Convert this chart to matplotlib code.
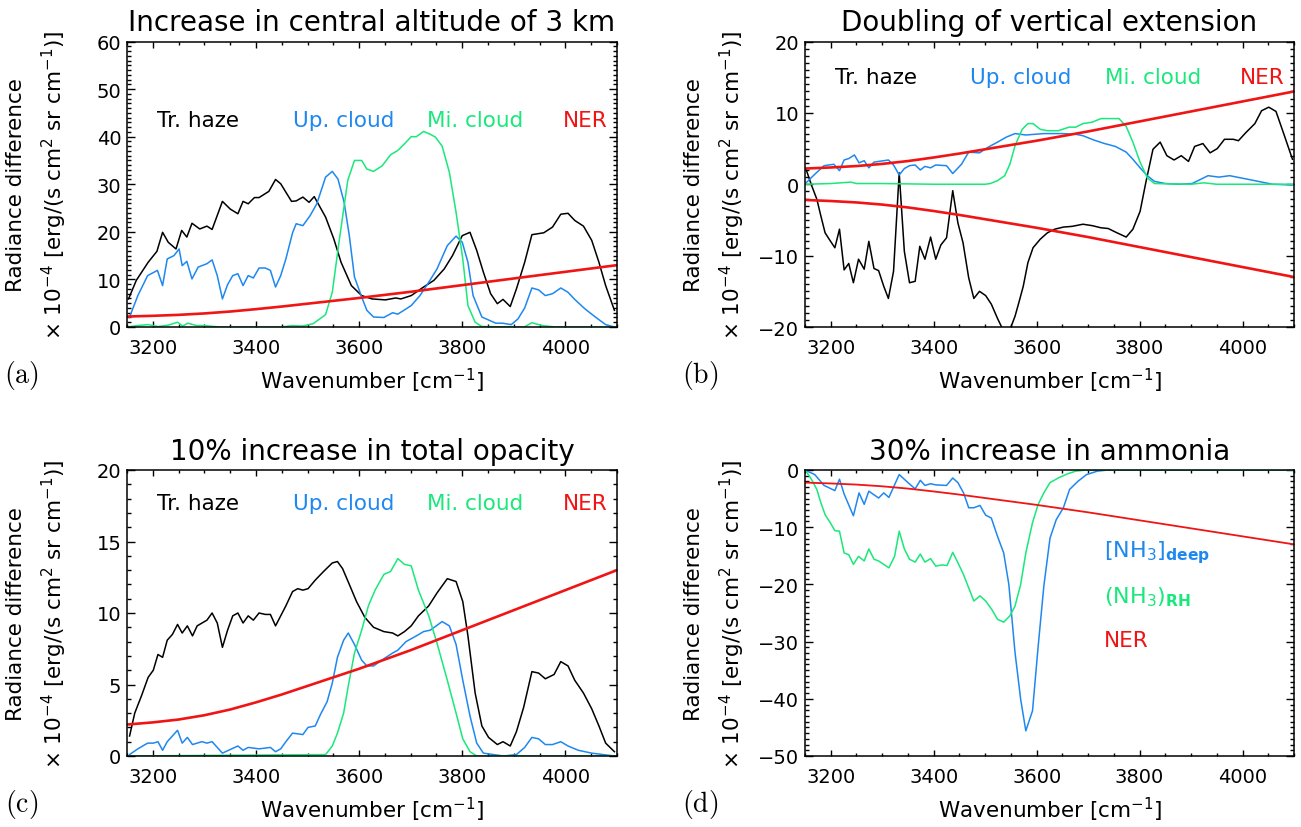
import matplotlib
matplotlib.use("Agg")
import matplotlib.pyplot as plt
from matplotlib.ticker import MultipleLocator

plt.rcParams["font.family"] = ["DejaVu Sans"]

# colours of the four series
c_haze = "black"
c_up = "#1e88f0"
c_mi = "#19e87a"
c_ner = "#f01414"

# noise equivalent radiance (shared by all panels)
wn_ner = [3150, 3200, 3250, 3300, 3350, 3400, 3450, 3500, 3550, 3600,
          3650, 3700, 3750, 3800, 3850, 3900, 3950, 4000, 4050, 4100]
ner = [2.2, 2.35, 2.55, 2.85, 3.25, 3.75, 4.3, 4.9, 5.5, 6.1,
       6.75, 7.4, 8.1, 8.8, 9.5, 10.2, 10.9, 11.6, 12.3, 13.0]

# (a) increase in central altitude of 3 km
wn_a_haze = [3153, 3168, 3191, 3208, 3219, 3230, 3245, 3256, 3266, 3276, 3291, 3305, 3315, 3335, 3350, 3365,
             3375, 3385, 3397, 3406, 3425, 3438, 3448, 3469, 3478, 3491, 3503, 3513, 3535, 3551, 3565, 3585,
             3605, 3625, 3651, 3671, 3681, 3701, 3725, 3745, 3765, 3781, 3800, 3815, 3828, 3841, 3855, 3868,
             3879, 3893, 3905, 3921, 3935, 3958, 3975, 3991, 4005, 4018, 4035, 4051, 4065, 4078, 4095]
a_haze = [5.9, 9.8, 13.6, 15.9, 19.9, 17.8, 16.4, 20.3, 18.9, 21.8, 20.6, 21.2, 20.5, 26.4, 24.8, 23.8,
          26.4, 25.9, 27.2, 27.2, 28.5, 31.0, 30.1, 26.4, 26.5, 27.3, 26.2, 27.4, 23.1, 18.5, 13.6, 8.7,
          6.6, 5.9, 5.7, 6.1, 5.9, 6.6, 8.4, 9.8, 12.2, 15.0, 19.2, 19.9, 16.1, 11.5, 7.0, 4.9,
          5.8, 4.3, 8.0, 13.6, 19.4, 19.8, 21.0, 23.7, 23.9, 22.4, 21.2, 18.2, 13.6, 8.7, 3.5]
wn_a_up = [3155, 3171, 3190, 3209, 3219, 3228, 3241, 3251, 3257, 3266, 3276, 3288, 3305, 3315, 3325, 3335,
           3345, 3355, 3365, 3375, 3385, 3395, 3406, 3418, 3428, 3438, 3448, 3458, 3471, 3478, 3491, 3505,
           3518, 3535, 3548, 3559, 3571, 3581, 3591, 3605, 3615, 3628, 3648, 3665, 3675, 3691, 3701, 3718,
           3735, 3751, 3771, 3788, 3800, 3811, 3821, 3838, 3865, 3878, 3895, 3908, 3921, 3935, 3948, 3961,
           3975, 3991, 4005, 4018, 4038, 4058, 4078, 4095]
a_up = [2.1, 6.6, 10.8, 11.9, 8.7, 14.3, 15.0, 16.4, 12.9, 13.8, 10.1, 12.6, 13.3, 14.1, 10.8, 5.9,
        8.9, 10.8, 11.2, 8.7, 10.8, 10.3, 12.4, 12.4, 11.9, 8.4, 10.8, 14.3, 19.8, 21.7, 21.3, 23.4,
        25.9, 31.5, 32.7, 31.1, 26.2, 19.2, 10.5, 6.3, 3.5, 2.1, 2.0, 3.0, 2.7, 3.8, 4.5, 6.6,
        9.4, 12.2, 17.1, 19.1, 17.8, 13.6, 6.6, 2.1, 0.8, 0.8, 0.5, 1.7, 4.0, 8.2, 7.8, 6.6,
        7.0, 8.2, 7.3, 5.8, 3.8, 2.1, 0.5, 0.0]
wn_a_mi = [3150, 3170, 3191, 3210, 3230, 3248, 3258, 3268, 3285, 3300, 3330, 3400, 3450, 3470, 3490, 3511,
           3535, 3548, 3561, 3578, 3591, 3605, 3615, 3628, 3645, 3661, 3675, 3688, 3701, 3711, 3725, 3738,
           3748, 3761, 3775, 3788, 3801, 3811, 3825, 3838, 3900, 3920, 3935, 3955, 3980, 4100]
a_mi = [0, 0.3, 0.5, 0.1, 0.4, 1.0, 0.2, 0.8, 0.3, 0.3, 0, 0, 0, 0.3, 0.2, 0.7,
        2.6, 7.3, 17.8, 30.8, 35.0, 35.0, 33.2, 32.7, 33.9, 36.2, 37.1, 38.5, 40.0, 40.0, 41.1, 40.5,
        39.9, 38.0, 32.5, 24.1, 14.3, 4.5, 1.0, 0.1, 0, 0, 0.9, 0.3, 0, 0]

# (b) doubling of vertical extension
wn_b_haze = [3152, 3163, 3173, 3180, 3189, 3197, 3208, 3217, 3226, 3235, 3244, 3254, 3265, 3274, 3284, 3293,
             3303, 3312, 3322, 3333, 3343, 3353, 3364, 3373, 3383, 3394, 3404, 3414, 3425, 3437, 3447, 3457,
             3468, 3478, 3489, 3501, 3512, 3524, 3536, 3548, 3558, 3565, 3574, 3583, 3593, 3607, 3621, 3635,
             3652, 3669, 3690, 3708, 3725, 3739, 3756, 3774, 3787, 3801, 3812, 3826, 3840, 3853, 3867, 3881,
             3895, 3907, 3923, 3937, 3951, 3965, 3982, 3992, 4006, 4024, 4037, 4051, 4065, 4079, 4097]
b_haze = [2.1, -0.2, -2.1, -4.2, -6.8, -7.7, -8.9, -6.3, -12.0, -11.1, -13.8, -10.5, -11.9, -8.0, -11.8, -12.1,
          -14.3, -16.0, -12.2, 1.6, -9.4, -13.8, -13.6, -8.7, -10.5, -7.4, -10.5, -8.5, -7.5, -0.9, -5.4, -8.2,
          -13.1, -16.0, -15.0, -15.6, -16.8, -18.8, -20.6, -20.4, -18.5, -16.7, -14.3, -11.0, -8.9, -7.7, -6.8, -6.3,
          -6.0, -5.9, -5.6, -5.8, -6.1, -6.2, -6.8, -7.4, -6.3, -3.8, 0.2, 4.9, 5.9, 4.0, 3.4, 4.0,
          3.2, 5.3, 5.7, 4.4, 5.0, 6.3, 6.3, 6.1, 7.2, 8.5, 10.3, 10.8, 10.2, 7.3, 3.5]
wn_b_up = [3152, 3169, 3187, 3206, 3217, 3226, 3235, 3246, 3255, 3265, 3274, 3284, 3303, 3312, 3322, 3333,
           3343, 3353, 3364, 3374, 3383, 3394, 3404, 3425, 3437, 3454, 3468, 3489, 3506, 3524, 3541, 3558,
           3579, 3614, 3649, 3676, 3690, 3711, 3732, 3753, 3774, 3787, 3801, 3815, 3829, 3850, 3878, 3902,
           3919, 3933, 3954, 3975, 3996, 4024, 4058, 4097]
b_up = [0.2, 1.4, 2.6, 2.8, 1.9, 3.4, 3.6, 4.1, 3.0, 3.3, 2.3, 3.1, 3.3, 3.4, 2.7, 1.3,
        2.2, 2.6, 2.7, 2.0, 2.5, 2.3, 2.7, 2.6, 1.5, 2.8, 4.5, 4.4, 5.2, 5.9, 6.6, 7.1,
        6.9, 7.1, 7.1, 7.0, 6.8, 6.2, 5.7, 5.3, 4.5, 3.5, 2.3, 1.2, 0.4, 0.1, 0.0, 0.1,
        0.7, 1.2, 1.0, 1.2, 0.9, 0.5, 0.0, -0.1]
wn_b_mi = [3150, 3200, 3239, 3250, 3300, 3400, 3500, 3510, 3524, 3538, 3548, 3558, 3572, 3583, 3593, 3607,
           3621, 3642, 3663, 3676, 3690, 3708, 3725, 3746, 3760, 3774, 3787, 3801, 3815, 3829, 3900, 3925,
           3950, 4100]
b_mi = [0, 0.1, 0.3, 0.1, 0.1, 0, 0, 0.1, 0.5, 1.2, 2.8, 5.4, 7.7, 8.5, 8.5, 7.7,
        7.5, 7.5, 8.0, 8.0, 8.5, 8.7, 9.2, 9.2, 9.2, 8.1, 5.9, 3.1, 0.9, 0.1, 0, 0.2,
        0, 0]

# (c) 10% increase in total opacity
wn_c_haze = [3155, 3165, 3178, 3191, 3201, 3210, 3219, 3228, 3238, 3248, 3257, 3267, 3277, 3286, 3305, 3315,
             3325, 3335, 3345, 3355, 3365, 3375, 3385, 3395, 3406, 3418, 3428, 3438, 3458, 3471, 3481, 3491,
             3501, 3515, 3531, 3548, 3558, 3568, 3581, 3595, 3611, 3628, 3648, 3665, 3675, 3688, 3701, 3715,
             3735, 3751, 3771, 3788, 3801, 3811, 3825, 3838, 3851, 3868, 3879, 3893, 3905, 3919, 3935, 3948,
             3961, 3978, 3991, 4005, 4018, 4035, 4051, 4065, 4078, 4095]
c_haze_v = [1.4, 3.0, 4.2, 5.5, 6.0, 7.1, 6.9, 8.1, 8.5, 9.2, 8.6, 9.1, 8.4, 9.1, 9.5, 10.0,
            9.3, 7.6, 8.8, 9.8, 10.0, 9.3, 9.8, 9.5, 10.0, 9.9, 9.9, 9.1, 10.5, 11.5, 11.7, 11.6,
            11.7, 12.3, 12.9, 13.5, 13.6, 13.1, 12.0, 10.8, 9.7, 9.0, 8.7, 8.6, 8.4, 8.7, 9.1, 9.8,
            10.5, 11.4, 12.4, 12.2, 10.8, 8.4, 4.4, 2.1, 1.3, 0.8, 1.0, 0.7, 1.7, 3.4, 5.9, 5.8,
            5.4, 5.7, 6.6, 6.3, 5.3, 4.4, 3.3, 2.1, 0.9, 0.3]
wn_c_up = [3155, 3171, 3190, 3201, 3210, 3219, 3228, 3238, 3248, 3257, 3267, 3277, 3295, 3305, 3315, 3335,
           3365, 3375, 3385, 3406, 3428, 3438, 3448, 3458, 3471, 3491, 3501, 3515, 3525, 3538, 3548, 3558,
           3570, 3579, 3591, 3605, 3615, 3628, 3648, 3665, 3675, 3691, 3711, 3725, 3738, 3761, 3775, 3788,
           3801, 3815, 3828, 3841, 3880, 3905, 3921, 3935, 3948, 3961, 3975, 3991, 4005, 4025, 4051, 4095]
c_up_v = [0.1, 0.5, 0.9, 0.9, 1.0, 0.4, 1.0, 1.4, 1.8, 0.9, 1.3, 0.8, 1.0, 0.9, 1.0, 0.2,
          0.7, 0.4, 0.6, 0.5, 0.6, 0.3, 0.5, 1.0, 1.6, 1.5, 2.0, 2.1, 2.9, 3.8, 5.1, 6.9,
          8.1, 8.6, 7.8, 6.7, 6.3, 6.3, 6.8, 7.2, 7.4, 8.0, 8.4, 8.7, 8.8, 9.4, 9.1, 7.8,
          5.3, 2.8, 0.9, 0.2, 0.0, 0.1, 0.6, 1.3, 1.2, 0.8, 0.8, 1.0, 0.7, 0.4, 0.2, 0.0]
wn_c_mi = [3150, 3535, 3548, 3558, 3570, 3579, 3591, 3605, 3618, 3631, 3648, 3661, 3675, 3688, 3701, 3715,
           3735, 3751, 3771, 3788, 3801, 3815, 3828, 4100]
c_mi_v = [0, 0.1, 0.7, 1.6, 3.0, 4.9, 7.2, 8.8, 10.5, 11.6, 12.7, 12.9, 13.8, 13.4, 13.3, 11.6,
          9.8, 7.9, 5.3, 3.0, 1.2, 0.3, 0, 0]

# (d) 30% increase in ammonia
wn_d_deep = [3152, 3169, 3187, 3208, 3217, 3226, 3244, 3255, 3265, 3274, 3293, 3303, 3313, 3333, 3350, 3364,
             3374, 3383, 3394, 3404, 3425, 3437, 3447, 3458, 3468, 3478, 3490, 3501, 3512, 3524, 3536, 3546,
             3558, 3569, 3579, 3592, 3603, 3614, 3626, 3638, 3652, 3664, 3680, 3697, 3718, 3739, 4100]
d_deep = [-0.1, -0.8, -2.7, -3.6, -1.6, -4.2, -8.0, -4.0, -6.0, -3.7, -4.9, -4.0, -4.8, -0.8, -2.2, -3.3,
          -1.8, -2.7, -2.4, -2.6, -2.7, -1.4, -2.2, -4.0, -6.6, -6.6, -6.2, -7.9, -8.4, -11.6, -14.5, -20.0,
          -31.9, -40.1, -45.6, -42.1, -30.8, -20.3, -11.9, -8.7, -6.6, -3.4, -2.0, -0.8, -0.2, 0, 0]
wn_d_rh = [3152, 3163, 3173, 3180, 3189, 3199, 3208, 3217, 3226, 3235, 3244, 3254, 3265, 3274, 3284, 3293,
           3303, 3313, 3324, 3333, 3343, 3353, 3364, 3374, 3383, 3394, 3404, 3416, 3426, 3437, 3447, 3458,
           3468, 3478, 3490, 3501, 3513, 3524, 3536, 3548, 3558, 3569, 3579, 3592, 3603, 3614, 3626, 3642,
           3659, 3676, 3697, 4100]
d_rh = [-0.2, -1.7, -3.4, -5.5, -7.8, -9.2, -10.6, -10.7, -14.5, -14.8, -16.5, -15.1, -15.9, -13.8, -15.6, -15.9,
        -16.5, -17.1, -15.1, -10.7, -13.8, -15.6, -16.1, -14.7, -16.1, -15.5, -16.8, -16.6, -16.7, -14.4, -16.2, -18.3,
        -20.6, -22.9, -22.0, -22.9, -24.4, -26.1, -26.6, -25.5, -23.8, -20.0, -14.5, -9.2, -6.0, -4.0, -2.2, -1.4,
        -0.7, -0.2, 0, 0]

titles = ["Increase in central altitude of 3 km", "Doubling of vertical extension",
          "10% increase in total opacity", "30% increase in ammonia"]
panel_tags = ["(a)", "(b)", "(c)", "(d)"]

W, H = 1301, 828
fig = plt.figure(figsize=(W / 100, H / 100), dpi=100)


def px_axes(x0, y0, x1, y1):
    return fig.add_axes([x0 / W, 1 - y1 / H, (x1 - x0) / W, (y1 - y0) / H])


ax_a = px_axes(127, 42.5, 617, 328)
ax_b = px_axes(805, 42.5, 1294, 328)
ax_c = px_axes(127, 471, 617, 757)
ax_d = px_axes(805, 471, 1294, 757)


def style(ax, ylo, yhi, ystep, title, tag):
    ax.set_xlim(3150, 4100)
    ax.set_ylim(ylo, yhi)
    ax.xaxis.set_major_locator(MultipleLocator(200))
    ax.xaxis.set_minor_locator(MultipleLocator(50))
    ax.yaxis.set_major_locator(MultipleLocator(ystep))
    ax.yaxis.set_minor_locator(MultipleLocator(1))
    ax.tick_params(which="both", direction="in", top=True, right=True, width=1.0)
    ax.tick_params(axis="x", which="major", length=4.5, pad=8, labelsize=14)
    ax.tick_params(axis="x", which="minor", length=2.2)
    ax.tick_params(axis="y", which="major", length=6, pad=4, labelsize=14)
    ax.tick_params(axis="y", which="minor", length=3)
    for s in ax.spines.values():
        s.set_linewidth(1.1)
    ax.set_title(title, fontsize=20, pad=8)
    ax.set_xlabel("Wavenumber [cm$^{-1}$]", fontsize=15.5, labelpad=6)
    ax.text(-0.226, 0.5, "Radiance difference", transform=ax.transAxes,
            rotation=90, ha="center", va="center", fontsize=15.5)
    ax.text(-0.148, 0.5, "\u00d7 10$^{-4}$ [erg/(s cm$^{2}$ sr cm$^{-1}$)]", transform=ax.transAxes,
            rotation=90, ha="center", va="center", fontsize=15.5)
    ax.text(-0.215, -0.165, r"$\mathrm{" + tag + "}$", transform=ax.transAxes,
            ha="center", va="center", fontsize=20, math_fontfamily="cm")


def legend_row(ax, ypos):
    ax.text(0.062, ypos, "Tr. haze", color=c_haze, transform=ax.transAxes, va="center", fontsize=15.5)
    ax.text(0.338, ypos, "Up. cloud", color=c_up, transform=ax.transAxes, va="center", fontsize=15.5)
    ax.text(0.613, ypos, "Mi. cloud", color=c_mi, transform=ax.transAxes, va="center", fontsize=15.5)
    ax.text(0.889, ypos, "NER", color=c_ner, transform=ax.transAxes, va="center", fontsize=15.5)


lw = 1.1
# (a)
ax_a.plot(wn_a_haze, a_haze, color=c_haze, lw=lw)
ax_a.plot(wn_a_up, a_up, color=c_up, lw=lw)
ax_a.plot(wn_a_mi, a_mi, color=c_mi, lw=lw)
ax_a.plot(wn_ner, ner, color=c_ner, lw=1.9)
style(ax_a, 0, 60, 10, titles[0], panel_tags[0])
legend_row(ax_a, 0.726)

# (b)
ax_b.plot(wn_b_haze, b_haze, color=c_haze, lw=lw)
ax_b.plot(wn_b_up, b_up, color=c_up, lw=lw)
ax_b.plot(wn_b_mi, b_mi, color=c_mi, lw=lw)
ax_b.plot(wn_ner, ner, color=c_ner, lw=1.9)
ax_b.plot(wn_ner, [-v for v in ner], color=c_ner, lw=1.9)
style(ax_b, -20, 20, 10, titles[1], panel_tags[1])
legend_row(ax_b, 0.874)

# (c)
ax_c.plot(wn_c_haze, c_haze_v, color=c_haze, lw=lw)
ax_c.plot(wn_c_up, c_up_v, color=c_up, lw=lw)
ax_c.plot(wn_c_mi, c_mi_v, color=c_mi, lw=lw)
ax_c.plot(wn_ner, ner, color=c_ner, lw=1.9)
style(ax_c, 0, 20, 5, titles[2], panel_tags[2])
legend_row(ax_c, 0.884)

# (d)
ax_d.plot(wn_d_deep, d_deep, color=c_up, lw=lw)
ax_d.plot(wn_d_rh, d_rh, color=c_mi, lw=lw)
ax_d.plot(wn_ner, [-v for v in ner], color=c_ner, lw=1.3)
style(ax_d, -50, 0, 10, titles[3], panel_tags[3])
ax_d.text(0.611, 0.715, r"$\left[\mathrm{NH_3}\right]_{\mathbf{deep}}$", color=c_up,
          transform=ax_d.transAxes, va="center", fontsize=16)
ax_d.text(0.611, 0.56, r"$\left(\mathrm{NH_3}\right)_{\mathbf{RH}}$", color=c_mi,
          transform=ax_d.transAxes, va="center", fontsize=16)
ax_d.text(0.611, 0.405, "NER", color=c_ner, transform=ax_d.transAxes, va="center", fontsize=15.5)

fig.savefig("out.png", dpi=100)
